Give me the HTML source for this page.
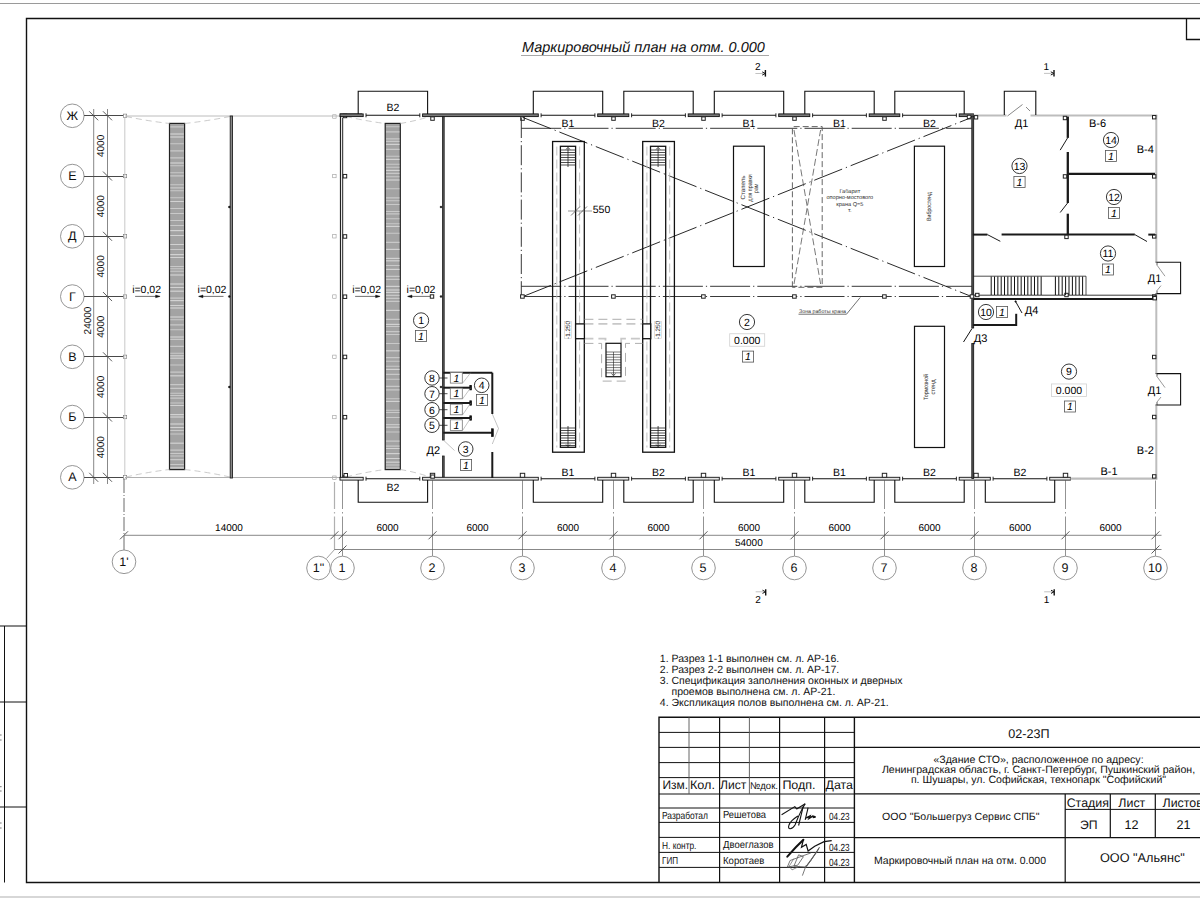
<!DOCTYPE html>
<html><head><meta charset="utf-8"><style>
html,body{margin:0;padding:0;background:#fff;width:1200px;height:900px;overflow:hidden}
svg{display:block;font-family:"Liberation Sans", sans-serif;text-rendering:geometricPrecision}
</style></head><body>
<svg width="1200" height="900" viewBox="0 0 1200 900">
<rect x="0" y="0" width="1200" height="900" fill="#fff"/>
<line x1="0.00" y1="3.50" x2="1200.00" y2="3.50" stroke="#9a9a9a" stroke-width="1.2" />
<path d="M1200,18.5 H26.5 V882.5 H1200" stroke="#111" stroke-width="1.4" fill="none" />
<line x1="0.00" y1="897.00" x2="1200.00" y2="897.00" stroke="#b0b0b0" stroke-width="1.2" />
<path d="M1186.5,18.5 V39.5 H1200" stroke="#111" stroke-width="1.3" fill="none" />
<line x1="4.50" y1="626.00" x2="4.50" y2="882.50" stroke="#111" stroke-width="1" />
<line x1="0.00" y1="626.00" x2="26.50" y2="626.00" stroke="#111" stroke-width="1" />
<line x1="0.00" y1="702.00" x2="26.50" y2="702.00" stroke="#111" stroke-width="1" />
<line x1="0.00" y1="807.00" x2="26.50" y2="807.00" stroke="#111" stroke-width="1" />
<line x1="0.00" y1="735.00" x2="1.60" y2="735.00" stroke="#555" stroke-width="0.8" />
<line x1="0.00" y1="740.00" x2="1.60" y2="740.00" stroke="#555" stroke-width="0.8" />
<line x1="0.00" y1="786.70" x2="1.60" y2="786.70" stroke="#555" stroke-width="0.8" />
<line x1="0.00" y1="791.00" x2="1.60" y2="791.00" stroke="#555" stroke-width="0.8" />
<line x1="0.00" y1="823.00" x2="1.60" y2="823.00" stroke="#555" stroke-width="0.8" />
<line x1="0.00" y1="828.00" x2="1.60" y2="828.00" stroke="#555" stroke-width="0.8" />
<text x="522" y="52.3" font-size="14.5" font-style="italic" fill="#111">Маркировочный план на отм. 0.000</text>
<line x1="521.00" y1="55.50" x2="769.00" y2="55.50" stroke="#a8a8a8" stroke-width="1" />
<text x="757.70" y="69.80" font-size="10" text-anchor="middle" fill="#000" >2</text>
<line x1="755.40" y1="73.50" x2="763.20" y2="73.50" stroke="#bbb" stroke-width="0.9" />
<line x1="765.40" y1="70.00" x2="765.40" y2="76.60" stroke="#111" stroke-width="1.4" />
<path d="M762.2,71.9 L765.2,73.5 L762.2,75.1" stroke="#111" stroke-width="1.0" fill="none" />
<text x="1046.30" y="69.70" font-size="10" text-anchor="middle" fill="#000" >1</text>
<line x1="1044.00" y1="73.40" x2="1051.80" y2="73.40" stroke="#bbb" stroke-width="0.9" />
<line x1="1054.00" y1="69.90" x2="1054.00" y2="76.50" stroke="#111" stroke-width="1.4" />
<path d="M1050.8,71.80000000000001 L1053.8,73.4 L1050.8,75.0" stroke="#111" stroke-width="1.0" fill="none" />
<text x="758.00" y="602.80" font-size="10" text-anchor="middle" fill="#000" >2</text>
<line x1="755.70" y1="591.80" x2="763.50" y2="591.80" stroke="#bbb" stroke-width="0.9" />
<line x1="765.70" y1="589.20" x2="765.70" y2="595.50" stroke="#111" stroke-width="1.4" />
<path d="M762.5,590.1999999999999 L765.5,591.8 L762.5,593.4" stroke="#111" stroke-width="1.0" fill="none" />
<text x="1046.50" y="602.80" font-size="10" text-anchor="middle" fill="#000" >1</text>
<line x1="1044.20" y1="591.80" x2="1052.00" y2="591.80" stroke="#bbb" stroke-width="0.9" />
<line x1="1054.20" y1="589.20" x2="1054.20" y2="595.50" stroke="#111" stroke-width="1.4" />
<path d="M1051.0,590.1999999999999 L1054.0,591.8 L1051.0,593.4" stroke="#111" stroke-width="1.0" fill="none" />
<circle cx="72.30" cy="115.80" r="11.80" stroke="#8a8a8a" stroke-width="0.9" fill="#fff"/>
<text x="72.30" y="119.90" font-size="12.5" text-anchor="middle" fill="#111" >Ж</text>
<line x1="84.10" y1="115.50" x2="125.00" y2="115.50" stroke="#333" stroke-width="0.9" />
<line x1="103.00" y1="111.30" x2="112.00" y2="120.30" stroke="#333" stroke-width="0.8" />
<line x1="89.20" y1="111.30" x2="98.20" y2="120.30" stroke="#333" stroke-width="0.8" />
<rect x="123.30" y="114.10" width="3.40" height="3.40" stroke="#777" stroke-width="0.6" fill="#fff" />
<circle cx="72.30" cy="176.05" r="11.80" stroke="#8a8a8a" stroke-width="0.9" fill="#fff"/>
<text x="72.30" y="180.15" font-size="12.5" text-anchor="middle" fill="#111" >Е</text>
<line x1="84.10" y1="176.50" x2="125.00" y2="176.50" stroke="#333" stroke-width="0.9" />
<line x1="103.00" y1="171.55" x2="112.00" y2="180.55" stroke="#333" stroke-width="0.8" />
<rect x="123.30" y="174.35" width="3.40" height="3.40" stroke="#777" stroke-width="0.6" fill="#fff" />
<circle cx="72.30" cy="236.30" r="11.80" stroke="#8a8a8a" stroke-width="0.9" fill="#fff"/>
<text x="72.30" y="240.40" font-size="12.5" text-anchor="middle" fill="#111" >Д</text>
<line x1="84.10" y1="236.50" x2="125.00" y2="236.50" stroke="#333" stroke-width="0.9" />
<line x1="103.00" y1="231.80" x2="112.00" y2="240.80" stroke="#333" stroke-width="0.8" />
<rect x="123.30" y="234.60" width="3.40" height="3.40" stroke="#777" stroke-width="0.6" fill="#fff" />
<circle cx="72.30" cy="296.55" r="11.80" stroke="#8a8a8a" stroke-width="0.9" fill="#fff"/>
<text x="72.30" y="300.65" font-size="12.5" text-anchor="middle" fill="#111" >Г</text>
<line x1="84.10" y1="296.50" x2="125.00" y2="296.50" stroke="#333" stroke-width="0.9" />
<line x1="103.00" y1="292.05" x2="112.00" y2="301.05" stroke="#333" stroke-width="0.8" />
<rect x="123.30" y="294.85" width="3.40" height="3.40" stroke="#777" stroke-width="0.6" fill="#fff" />
<circle cx="72.30" cy="356.80" r="11.80" stroke="#8a8a8a" stroke-width="0.9" fill="#fff"/>
<text x="72.30" y="360.90" font-size="12.5" text-anchor="middle" fill="#111" >В</text>
<line x1="84.10" y1="356.50" x2="125.00" y2="356.50" stroke="#333" stroke-width="0.9" />
<line x1="103.00" y1="352.30" x2="112.00" y2="361.30" stroke="#333" stroke-width="0.8" />
<rect x="123.30" y="355.10" width="3.40" height="3.40" stroke="#777" stroke-width="0.6" fill="#fff" />
<circle cx="72.30" cy="417.05" r="11.80" stroke="#8a8a8a" stroke-width="0.9" fill="#fff"/>
<text x="72.30" y="421.15" font-size="12.5" text-anchor="middle" fill="#111" >Б</text>
<line x1="84.10" y1="417.50" x2="125.00" y2="417.50" stroke="#333" stroke-width="0.9" />
<line x1="103.00" y1="412.55" x2="112.00" y2="421.55" stroke="#333" stroke-width="0.8" />
<rect x="123.30" y="415.35" width="3.40" height="3.40" stroke="#777" stroke-width="0.6" fill="#fff" />
<circle cx="72.30" cy="477.30" r="11.80" stroke="#8a8a8a" stroke-width="0.9" fill="#fff"/>
<text x="72.30" y="481.40" font-size="12.5" text-anchor="middle" fill="#111" >А</text>
<line x1="84.10" y1="477.50" x2="125.00" y2="477.50" stroke="#333" stroke-width="0.9" />
<line x1="103.00" y1="472.80" x2="112.00" y2="481.80" stroke="#333" stroke-width="0.8" />
<line x1="89.20" y1="472.80" x2="98.20" y2="481.80" stroke="#333" stroke-width="0.8" />
<rect x="123.30" y="475.60" width="3.40" height="3.40" stroke="#777" stroke-width="0.6" fill="#fff" />
<line x1="93.70" y1="109.00" x2="93.70" y2="484.00" stroke="#555" stroke-width="0.7" />
<line x1="107.50" y1="109.00" x2="107.50" y2="484.00" stroke="#555" stroke-width="0.7" />
<line x1="124.80" y1="117.50" x2="124.80" y2="475.50" stroke="#bbb" stroke-width="0.8" />
<text x="0" y="0" font-size="10" text-anchor="middle" fill="#111" transform="translate(104,145.9) rotate(-90)">4000</text>
<text x="0" y="0" font-size="10" text-anchor="middle" fill="#111" transform="translate(104,206.2) rotate(-90)">4000</text>
<text x="0" y="0" font-size="10" text-anchor="middle" fill="#111" transform="translate(104,266.4) rotate(-90)">4000</text>
<text x="0" y="0" font-size="10" text-anchor="middle" fill="#111" transform="translate(104,326.7) rotate(-90)">4000</text>
<text x="0" y="0" font-size="10" text-anchor="middle" fill="#111" transform="translate(104,386.9) rotate(-90)">4000</text>
<text x="0" y="0" font-size="10" text-anchor="middle" fill="#111" transform="translate(104,447.2) rotate(-90)">4000</text>
<text x="0" y="0" font-size="10" text-anchor="middle" fill="#111" transform="translate(90.5,320.5) rotate(-90)">24000</text>
<line x1="124.00" y1="479.00" x2="124.00" y2="550.00" stroke="#444" stroke-width="0.8" stroke-dasharray="14,2,1,2"/>
<circle cx="124.00" cy="561.80" r="11.80" stroke="#8a8a8a" stroke-width="0.9" fill="#fff"/>
<text x="124.00" y="566.20" font-size="12.5" text-anchor="middle" fill="#111" >1'</text>
<line x1="124.00" y1="535.30" x2="334.40" y2="535.30" stroke="#555" stroke-width="0.7" />
<line x1="120.00" y1="539.30" x2="128.00" y2="531.30" stroke="#333" stroke-width="0.8" />
<text x="229.00" y="531.00" font-size="10" text-anchor="middle" fill="#000" >14000</text>
<line x1="334.50" y1="482.00" x2="334.50" y2="549.60" stroke="#b0b0b0" stroke-width="1.2" stroke-dasharray="27,3,1.5,3,200"/>
<path d="M334.5,549.6 L326.5,558.5" stroke="#777" stroke-width="0.7" fill="none" />
<circle cx="318.50" cy="568.00" r="11.80" stroke="#8a8a8a" stroke-width="0.9" fill="#fff"/>
<text x="318.50" y="572.40" font-size="12.5" text-anchor="middle" fill="#111" >1"</text>
<line x1="330.40" y1="539.30" x2="338.40" y2="531.30" stroke="#333" stroke-width="0.8" />
<rect x="332.70" y="114.80" width="3.40" height="3.40" stroke="#999" stroke-width="0.6" fill="#fff" />
<rect x="332.70" y="476.00" width="3.40" height="3.40" stroke="#999" stroke-width="0.6" fill="#fff" />
<rect x="332.70" y="174.35" width="3.40" height="3.40" stroke="#999" stroke-width="0.6" fill="#fff" />
<rect x="332.70" y="234.60" width="3.40" height="3.40" stroke="#999" stroke-width="0.6" fill="#fff" />
<rect x="332.70" y="294.85" width="3.40" height="3.40" stroke="#999" stroke-width="0.6" fill="#fff" />
<rect x="332.70" y="355.10" width="3.40" height="3.40" stroke="#999" stroke-width="0.6" fill="#fff" />
<rect x="332.70" y="415.35" width="3.40" height="3.40" stroke="#999" stroke-width="0.6" fill="#fff" />
<line x1="342.50" y1="480.50" x2="342.50" y2="556.00" stroke="#777" stroke-width="0.8" stroke-dasharray="28.5,3,1.5,3,200"/>
<circle cx="342.50" cy="568.00" r="11.80" stroke="#8a8a8a" stroke-width="0.9" fill="#fff"/>
<text x="342.00" y="572.40" font-size="12.5" text-anchor="middle" fill="#111" >1</text>
<line x1="338.50" y1="539.30" x2="346.50" y2="531.30" stroke="#333" stroke-width="0.8" />
<line x1="338.50" y1="553.50" x2="346.50" y2="545.50" stroke="#333" stroke-width="0.8" />
<line x1="432.50" y1="480.50" x2="432.50" y2="556.00" stroke="#777" stroke-width="0.8" stroke-dasharray="28.5,3,1.5,3,200"/>
<circle cx="432.50" cy="568.00" r="11.80" stroke="#8a8a8a" stroke-width="0.9" fill="#fff"/>
<text x="432.00" y="572.40" font-size="12.5" text-anchor="middle" fill="#111" >2</text>
<line x1="428.50" y1="539.30" x2="436.50" y2="531.30" stroke="#333" stroke-width="0.8" />
<line x1="522.50" y1="480.50" x2="522.50" y2="556.00" stroke="#777" stroke-width="0.8" stroke-dasharray="28.5,3,1.5,3,200"/>
<circle cx="522.50" cy="568.00" r="11.80" stroke="#8a8a8a" stroke-width="0.9" fill="#fff"/>
<text x="522.00" y="572.40" font-size="12.5" text-anchor="middle" fill="#111" >3</text>
<line x1="518.50" y1="539.30" x2="526.50" y2="531.30" stroke="#333" stroke-width="0.8" />
<line x1="613.50" y1="480.50" x2="613.50" y2="556.00" stroke="#777" stroke-width="0.8" stroke-dasharray="28.5,3,1.5,3,200"/>
<circle cx="613.50" cy="568.00" r="11.80" stroke="#8a8a8a" stroke-width="0.9" fill="#fff"/>
<text x="613.00" y="572.40" font-size="12.5" text-anchor="middle" fill="#111" >4</text>
<line x1="609.50" y1="539.30" x2="617.50" y2="531.30" stroke="#333" stroke-width="0.8" />
<line x1="703.50" y1="480.50" x2="703.50" y2="556.00" stroke="#777" stroke-width="0.8" stroke-dasharray="28.5,3,1.5,3,200"/>
<circle cx="703.50" cy="568.00" r="11.80" stroke="#8a8a8a" stroke-width="0.9" fill="#fff"/>
<text x="703.00" y="572.40" font-size="12.5" text-anchor="middle" fill="#111" >5</text>
<line x1="699.50" y1="539.30" x2="707.50" y2="531.30" stroke="#333" stroke-width="0.8" />
<line x1="794.50" y1="480.50" x2="794.50" y2="556.00" stroke="#777" stroke-width="0.8" stroke-dasharray="28.5,3,1.5,3,200"/>
<circle cx="794.50" cy="568.00" r="11.80" stroke="#8a8a8a" stroke-width="0.9" fill="#fff"/>
<text x="794.00" y="572.40" font-size="12.5" text-anchor="middle" fill="#111" >6</text>
<line x1="790.50" y1="539.30" x2="798.50" y2="531.30" stroke="#333" stroke-width="0.8" />
<line x1="884.50" y1="480.50" x2="884.50" y2="556.00" stroke="#777" stroke-width="0.8" stroke-dasharray="28.5,3,1.5,3,200"/>
<circle cx="884.50" cy="568.00" r="11.80" stroke="#8a8a8a" stroke-width="0.9" fill="#fff"/>
<text x="884.00" y="572.40" font-size="12.5" text-anchor="middle" fill="#111" >7</text>
<line x1="880.50" y1="539.30" x2="888.50" y2="531.30" stroke="#333" stroke-width="0.8" />
<line x1="974.50" y1="480.50" x2="974.50" y2="556.00" stroke="#777" stroke-width="0.8" stroke-dasharray="28.5,3,1.5,3,200"/>
<circle cx="974.50" cy="568.00" r="11.80" stroke="#8a8a8a" stroke-width="0.9" fill="#fff"/>
<text x="974.00" y="572.40" font-size="12.5" text-anchor="middle" fill="#111" >8</text>
<line x1="970.50" y1="539.30" x2="978.50" y2="531.30" stroke="#333" stroke-width="0.8" />
<line x1="1065.50" y1="480.50" x2="1065.50" y2="556.00" stroke="#777" stroke-width="0.8" stroke-dasharray="28.5,3,1.5,3,200"/>
<circle cx="1065.50" cy="568.00" r="11.80" stroke="#8a8a8a" stroke-width="0.9" fill="#fff"/>
<text x="1065.00" y="572.40" font-size="12.5" text-anchor="middle" fill="#111" >9</text>
<line x1="1061.50" y1="539.30" x2="1069.50" y2="531.30" stroke="#333" stroke-width="0.8" />
<line x1="1155.50" y1="480.50" x2="1155.50" y2="556.00" stroke="#777" stroke-width="0.8" stroke-dasharray="28.5,3,1.5,3,200"/>
<circle cx="1155.50" cy="568.00" r="11.80" stroke="#8a8a8a" stroke-width="0.9" fill="#fff"/>
<text x="1155.00" y="572.40" font-size="12.5" text-anchor="middle" fill="#111" >10</text>
<line x1="1151.50" y1="539.30" x2="1159.50" y2="531.30" stroke="#333" stroke-width="0.8" />
<line x1="1151.50" y1="553.50" x2="1159.50" y2="545.50" stroke="#333" stroke-width="0.8" />
<line x1="334.40" y1="535.30" x2="1161.50" y2="535.30" stroke="#555" stroke-width="0.7" />
<line x1="334.40" y1="549.50" x2="1161.50" y2="549.50" stroke="#555" stroke-width="0.7" />
<text x="387.50" y="531.00" font-size="10" text-anchor="middle" fill="#000" >6000</text>
<text x="477.50" y="531.00" font-size="10" text-anchor="middle" fill="#000" >6000</text>
<text x="568.00" y="531.00" font-size="10" text-anchor="middle" fill="#000" >6000</text>
<text x="658.50" y="531.00" font-size="10" text-anchor="middle" fill="#000" >6000</text>
<text x="749.00" y="531.00" font-size="10" text-anchor="middle" fill="#000" >6000</text>
<text x="839.50" y="531.00" font-size="10" text-anchor="middle" fill="#000" >6000</text>
<text x="929.50" y="531.00" font-size="10" text-anchor="middle" fill="#000" >6000</text>
<text x="1020.00" y="531.00" font-size="10" text-anchor="middle" fill="#000" >6000</text>
<text x="1110.50" y="531.00" font-size="10" text-anchor="middle" fill="#000" >6000</text>
<text x="748.80" y="545.50" font-size="10" text-anchor="middle" fill="#000" >54000</text>
<line x1="125.00" y1="116.00" x2="340.00" y2="116.00" stroke="#bcbcbc" stroke-width="1" />
<line x1="125.00" y1="477.50" x2="340.00" y2="477.50" stroke="#b0b0b0" stroke-width="1" />
<rect x="169.50" y="123.40" width="15.10" height="346.20" stroke="#222" stroke-width="1.2" fill="#a3a3a3" />
<rect x="170.30" y="126.40" width="13.50" height="1.0" fill="#d2d2d2"/>
<rect x="170.30" y="133.40" width="13.50" height="1.2" fill="#d2d2d2"/>
<rect x="170.30" y="136.40" width="13.50" height="1.2" fill="#d2d2d2"/>
<rect x="170.30" y="143.40" width="13.50" height="0.8" fill="#d2d2d2"/>
<rect x="170.30" y="150.40" width="13.50" height="1.0" fill="#d2d2d2"/>
<rect x="170.30" y="157.40" width="13.50" height="1.0" fill="#d2d2d2"/>
<rect x="170.30" y="162.40" width="13.50" height="1.2" fill="#d2d2d2"/>
<rect x="170.30" y="165.40" width="13.50" height="0.8" fill="#d2d2d2"/>
<rect x="170.30" y="172.40" width="13.50" height="0.8" fill="#d2d2d2"/>
<rect x="170.30" y="175.40" width="13.50" height="1.0" fill="#d2d2d2"/>
<rect x="170.30" y="184.40" width="13.50" height="0.8" fill="#d2d2d2"/>
<rect x="170.30" y="187.40" width="13.50" height="1.0" fill="#d2d2d2"/>
<rect x="170.30" y="190.40" width="13.50" height="0.8" fill="#d2d2d2"/>
<rect x="170.30" y="197.40" width="13.50" height="0.8" fill="#d2d2d2"/>
<rect x="170.30" y="201.00" width="13.50" height="1.0" fill="#d2d2d2"/>
<rect x="170.30" y="208.00" width="13.50" height="0.8" fill="#d2d2d2"/>
<rect x="170.30" y="213.00" width="13.50" height="0.8" fill="#d2d2d2"/>
<rect x="170.30" y="220.00" width="13.50" height="0.8" fill="#d2d2d2"/>
<rect x="170.30" y="225.00" width="13.50" height="0.8" fill="#d2d2d2"/>
<rect x="170.30" y="230.00" width="13.50" height="1.2" fill="#d2d2d2"/>
<rect x="170.30" y="235.00" width="13.50" height="1.0" fill="#d2d2d2"/>
<rect x="170.30" y="244.00" width="13.50" height="1.0" fill="#d2d2d2"/>
<rect x="170.30" y="249.00" width="13.50" height="0.8" fill="#d2d2d2"/>
<rect x="170.30" y="254.00" width="13.50" height="1.2" fill="#d2d2d2"/>
<rect x="170.30" y="257.00" width="13.50" height="1.0" fill="#d2d2d2"/>
<rect x="170.30" y="266.00" width="13.50" height="0.8" fill="#d2d2d2"/>
<rect x="170.30" y="268.40" width="13.50" height="0.8" fill="#d2d2d2"/>
<rect x="170.30" y="270.80" width="13.50" height="0.8" fill="#d2d2d2"/>
<rect x="170.30" y="274.40" width="13.50" height="1.2" fill="#d2d2d2"/>
<rect x="170.30" y="283.40" width="13.50" height="1.2" fill="#d2d2d2"/>
<rect x="170.30" y="287.00" width="13.50" height="1.0" fill="#d2d2d2"/>
<rect x="170.30" y="290.60" width="13.50" height="1.2" fill="#d2d2d2"/>
<rect x="170.30" y="297.60" width="13.50" height="1.0" fill="#d2d2d2"/>
<rect x="170.30" y="300.00" width="13.50" height="1.2" fill="#d2d2d2"/>
<rect x="170.30" y="305.00" width="13.50" height="1.0" fill="#d2d2d2"/>
<rect x="170.30" y="307.40" width="13.50" height="1.2" fill="#d2d2d2"/>
<rect x="170.30" y="316.40" width="13.50" height="1.2" fill="#d2d2d2"/>
<rect x="170.30" y="319.40" width="13.50" height="0.8" fill="#d2d2d2"/>
<rect x="170.30" y="324.40" width="13.50" height="1.0" fill="#d2d2d2"/>
<rect x="170.30" y="329.40" width="13.50" height="0.8" fill="#d2d2d2"/>
<rect x="170.30" y="336.40" width="13.50" height="1.2" fill="#d2d2d2"/>
<rect x="170.30" y="338.80" width="13.50" height="1.0" fill="#d2d2d2"/>
<rect x="170.30" y="345.80" width="13.50" height="1.0" fill="#d2d2d2"/>
<rect x="170.30" y="352.80" width="13.50" height="0.8" fill="#d2d2d2"/>
<rect x="170.30" y="355.20" width="13.50" height="1.2" fill="#d2d2d2"/>
<rect x="170.30" y="357.60" width="13.50" height="1.2" fill="#d2d2d2"/>
<rect x="170.30" y="364.60" width="13.50" height="0.8" fill="#d2d2d2"/>
<rect x="170.30" y="371.60" width="13.50" height="1.0" fill="#d2d2d2"/>
<rect x="170.30" y="375.20" width="13.50" height="1.2" fill="#d2d2d2"/>
<rect x="170.30" y="384.20" width="13.50" height="1.0" fill="#d2d2d2"/>
<rect x="170.30" y="387.80" width="13.50" height="1.0" fill="#d2d2d2"/>
<rect x="170.30" y="392.80" width="13.50" height="0.8" fill="#d2d2d2"/>
<rect x="170.30" y="395.20" width="13.50" height="0.8" fill="#d2d2d2"/>
<rect x="170.30" y="397.60" width="13.50" height="1.0" fill="#d2d2d2"/>
<rect x="170.30" y="402.60" width="13.50" height="0.8" fill="#d2d2d2"/>
<rect x="170.30" y="405.00" width="13.50" height="1.0" fill="#d2d2d2"/>
<rect x="170.30" y="414.00" width="13.50" height="1.2" fill="#d2d2d2"/>
<rect x="170.30" y="416.40" width="13.50" height="1.2" fill="#d2d2d2"/>
<rect x="170.30" y="423.40" width="13.50" height="1.2" fill="#d2d2d2"/>
<rect x="170.30" y="427.00" width="13.50" height="1.0" fill="#d2d2d2"/>
<rect x="170.30" y="430.00" width="13.50" height="0.8" fill="#d2d2d2"/>
<rect x="170.30" y="433.60" width="13.50" height="0.8" fill="#d2d2d2"/>
<rect x="170.30" y="442.60" width="13.50" height="1.2" fill="#d2d2d2"/>
<rect x="170.30" y="449.60" width="13.50" height="1.0" fill="#d2d2d2"/>
<rect x="170.30" y="453.20" width="13.50" height="0.8" fill="#d2d2d2"/>
<rect x="170.30" y="455.60" width="13.50" height="0.8" fill="#d2d2d2"/>
<rect x="170.30" y="459.20" width="13.50" height="1.0" fill="#d2d2d2"/>
<rect x="170.30" y="464.20" width="13.50" height="0.8" fill="#d2d2d2"/>
<rect x="170.30" y="467.20" width="13.50" height="1.2" fill="#d2d2d2"/>
<rect x="385.20" y="123.40" width="15.10" height="346.20" stroke="#222" stroke-width="1.2" fill="#a3a3a3" />
<rect x="386.00" y="126.40" width="13.50" height="0.8" fill="#d2d2d2"/>
<rect x="386.00" y="131.40" width="13.50" height="1.0" fill="#d2d2d2"/>
<rect x="386.00" y="138.40" width="13.50" height="1.0" fill="#d2d2d2"/>
<rect x="386.00" y="140.80" width="13.50" height="1.0" fill="#d2d2d2"/>
<rect x="386.00" y="143.80" width="13.50" height="1.2" fill="#d2d2d2"/>
<rect x="386.00" y="148.80" width="13.50" height="1.0" fill="#d2d2d2"/>
<rect x="386.00" y="155.80" width="13.50" height="0.8" fill="#d2d2d2"/>
<rect x="386.00" y="158.80" width="13.50" height="1.2" fill="#d2d2d2"/>
<rect x="386.00" y="163.80" width="13.50" height="0.8" fill="#d2d2d2"/>
<rect x="386.00" y="166.80" width="13.50" height="0.8" fill="#d2d2d2"/>
<rect x="386.00" y="169.80" width="13.50" height="1.2" fill="#d2d2d2"/>
<rect x="386.00" y="172.80" width="13.50" height="1.0" fill="#d2d2d2"/>
<rect x="386.00" y="176.40" width="13.50" height="0.8" fill="#d2d2d2"/>
<rect x="386.00" y="179.40" width="13.50" height="1.2" fill="#d2d2d2"/>
<rect x="386.00" y="188.40" width="13.50" height="0.8" fill="#d2d2d2"/>
<rect x="386.00" y="197.40" width="13.50" height="1.0" fill="#d2d2d2"/>
<rect x="386.00" y="200.40" width="13.50" height="0.8" fill="#d2d2d2"/>
<rect x="386.00" y="204.00" width="13.50" height="0.8" fill="#d2d2d2"/>
<rect x="386.00" y="211.00" width="13.50" height="0.8" fill="#d2d2d2"/>
<rect x="386.00" y="213.40" width="13.50" height="1.0" fill="#d2d2d2"/>
<rect x="386.00" y="218.40" width="13.50" height="0.8" fill="#d2d2d2"/>
<rect x="386.00" y="223.40" width="13.50" height="0.8" fill="#d2d2d2"/>
<rect x="386.00" y="225.80" width="13.50" height="1.2" fill="#d2d2d2"/>
<rect x="386.00" y="232.80" width="13.50" height="0.8" fill="#d2d2d2"/>
<rect x="386.00" y="241.80" width="13.50" height="1.0" fill="#d2d2d2"/>
<rect x="386.00" y="248.80" width="13.50" height="1.2" fill="#d2d2d2"/>
<rect x="386.00" y="257.80" width="13.50" height="1.2" fill="#d2d2d2"/>
<rect x="386.00" y="260.20" width="13.50" height="1.2" fill="#d2d2d2"/>
<rect x="386.00" y="265.20" width="13.50" height="0.8" fill="#d2d2d2"/>
<rect x="386.00" y="268.80" width="13.50" height="1.2" fill="#d2d2d2"/>
<rect x="386.00" y="275.80" width="13.50" height="1.0" fill="#d2d2d2"/>
<rect x="386.00" y="278.80" width="13.50" height="1.0" fill="#d2d2d2"/>
<rect x="386.00" y="285.80" width="13.50" height="1.2" fill="#d2d2d2"/>
<rect x="386.00" y="289.40" width="13.50" height="1.2" fill="#d2d2d2"/>
<rect x="386.00" y="291.80" width="13.50" height="1.2" fill="#d2d2d2"/>
<rect x="386.00" y="294.80" width="13.50" height="1.0" fill="#d2d2d2"/>
<rect x="386.00" y="297.80" width="13.50" height="1.0" fill="#d2d2d2"/>
<rect x="386.00" y="300.80" width="13.50" height="1.0" fill="#d2d2d2"/>
<rect x="386.00" y="309.80" width="13.50" height="1.2" fill="#d2d2d2"/>
<rect x="386.00" y="318.80" width="13.50" height="1.0" fill="#d2d2d2"/>
<rect x="386.00" y="323.80" width="13.50" height="1.2" fill="#d2d2d2"/>
<rect x="386.00" y="326.20" width="13.50" height="0.8" fill="#d2d2d2"/>
<rect x="386.00" y="331.20" width="13.50" height="1.0" fill="#d2d2d2"/>
<rect x="386.00" y="334.20" width="13.50" height="0.8" fill="#d2d2d2"/>
<rect x="386.00" y="343.20" width="13.50" height="0.8" fill="#d2d2d2"/>
<rect x="386.00" y="350.20" width="13.50" height="1.2" fill="#d2d2d2"/>
<rect x="386.00" y="357.20" width="13.50" height="1.0" fill="#d2d2d2"/>
<rect x="386.00" y="360.80" width="13.50" height="0.8" fill="#d2d2d2"/>
<rect x="386.00" y="365.80" width="13.50" height="0.8" fill="#d2d2d2"/>
<rect x="386.00" y="368.80" width="13.50" height="1.2" fill="#d2d2d2"/>
<rect x="386.00" y="373.80" width="13.50" height="1.0" fill="#d2d2d2"/>
<rect x="386.00" y="378.80" width="13.50" height="0.8" fill="#d2d2d2"/>
<rect x="386.00" y="385.80" width="13.50" height="1.0" fill="#d2d2d2"/>
<rect x="386.00" y="389.40" width="13.50" height="1.0" fill="#d2d2d2"/>
<rect x="386.00" y="398.40" width="13.50" height="0.8" fill="#d2d2d2"/>
<rect x="386.00" y="400.80" width="13.50" height="1.2" fill="#d2d2d2"/>
<rect x="386.00" y="409.80" width="13.50" height="0.8" fill="#d2d2d2"/>
<rect x="386.00" y="412.20" width="13.50" height="0.8" fill="#d2d2d2"/>
<rect x="386.00" y="417.20" width="13.50" height="0.8" fill="#d2d2d2"/>
<rect x="386.00" y="424.20" width="13.50" height="1.0" fill="#d2d2d2"/>
<rect x="386.00" y="426.60" width="13.50" height="1.2" fill="#d2d2d2"/>
<rect x="386.00" y="431.60" width="13.50" height="0.8" fill="#d2d2d2"/>
<rect x="386.00" y="440.60" width="13.50" height="1.0" fill="#d2d2d2"/>
<rect x="386.00" y="445.60" width="13.50" height="1.0" fill="#d2d2d2"/>
<rect x="386.00" y="448.00" width="13.50" height="1.0" fill="#d2d2d2"/>
<rect x="386.00" y="453.00" width="13.50" height="1.2" fill="#d2d2d2"/>
<rect x="386.00" y="458.00" width="13.50" height="1.0" fill="#d2d2d2"/>
<rect x="386.00" y="461.60" width="13.50" height="1.2" fill="#d2d2d2"/>
<rect x="386.00" y="464.60" width="13.50" height="0.8" fill="#d2d2d2"/>
<rect x="386.00" y="467.60" width="13.50" height="0.8" fill="#d2d2d2"/>
<path d="M126,116.5 Q147.75,121 169.5,123.5 M184.6,123.5 Q207.3,121 230,116.5" stroke="#b5b5b5" stroke-width="0.7" fill="none" stroke-dasharray="6,4"/>
<path d="M126,477 Q147.75,472 169.5,469.5 M184.6,469.5 Q207.3,472 230,477" stroke="#b5b5b5" stroke-width="0.7" fill="none" stroke-dasharray="6,4"/>
<path d="M346,116.5 Q365.6,121 385.2,123.5 M400.3,123.5 Q415.15,121 430,116.5" stroke="#b5b5b5" stroke-width="0.7" fill="none" stroke-dasharray="6,4"/>
<path d="M346,477 Q365.6,472 385.2,469.5 M400.3,469.5 Q415.15,472 430,477" stroke="#b5b5b5" stroke-width="0.7" fill="none" stroke-dasharray="6,4"/>
<rect x="230.20" y="116.00" width="2.30" height="362.00" stroke="#222" stroke-width="0.9" fill="#888" />
<circle cx="229.30" cy="207.00" r="0.90" stroke="#111" stroke-width="0.5" fill="#111"/>
<circle cx="229.30" cy="296.50" r="0.90" stroke="#111" stroke-width="0.5" fill="#111"/>
<circle cx="229.30" cy="387.00" r="0.90" stroke="#111" stroke-width="0.5" fill="#111"/>
<path d="M340.5,478.5 V114 H362" stroke="#222" stroke-width="1.2" fill="none" />
<line x1="342.70" y1="118.00" x2="342.70" y2="478.00" stroke="#222" stroke-width="1" />
<rect x="343.20" y="114.20" width="3.50" height="3.50" stroke="#222" stroke-width="1" fill="#fff" />
<rect x="343.20" y="174.45" width="3.50" height="3.50" stroke="#222" stroke-width="1" fill="#fff" />
<rect x="343.20" y="234.70" width="3.50" height="3.50" stroke="#222" stroke-width="1" fill="#fff" />
<rect x="343.20" y="294.95" width="3.50" height="3.50" stroke="#222" stroke-width="1" fill="#fff" />
<rect x="343.20" y="355.20" width="3.50" height="3.50" stroke="#222" stroke-width="1" fill="#fff" />
<rect x="343.20" y="415.45" width="3.50" height="3.50" stroke="#222" stroke-width="1" fill="#fff" />
<rect x="343.20" y="475.70" width="3.50" height="3.50" stroke="#222" stroke-width="1" fill="#fff" />
<rect x="442.40" y="116.50" width="1.80" height="323.50" stroke="#222" stroke-width="0.8" fill="#555" />
<rect x="442.40" y="456.00" width="1.80" height="22.00" stroke="#222" stroke-width="0.8" fill="#555" />
<circle cx="441.00" cy="207.00" r="0.90" stroke="#111" stroke-width="0.5" fill="#111"/>
<circle cx="441.00" cy="296.50" r="0.90" stroke="#111" stroke-width="0.5" fill="#111"/>
<circle cx="441.00" cy="387.00" r="0.90" stroke="#111" stroke-width="0.5" fill="#111"/>
<rect x="340.00" y="113.90" width="23.20" height="2.70" stroke="#111" stroke-width="0.9" fill="#7a7a7a" />
<rect x="422.60" y="113.90" width="115.70" height="2.70" stroke="#111" stroke-width="0.9" fill="#7a7a7a" />
<rect x="597.70" y="113.90" width="31.10" height="2.70" stroke="#111" stroke-width="0.9" fill="#7a7a7a" />
<rect x="688.20" y="113.90" width="31.10" height="2.70" stroke="#111" stroke-width="0.9" fill="#7a7a7a" />
<rect x="778.70" y="113.90" width="31.10" height="2.70" stroke="#111" stroke-width="0.9" fill="#7a7a7a" />
<rect x="869.20" y="113.90" width="30.60" height="2.70" stroke="#111" stroke-width="0.9" fill="#7a7a7a" />
<rect x="959.20" y="113.90" width="14.30" height="2.70" stroke="#111" stroke-width="0.9" fill="#7a7a7a" />
<path d="M358.20,114 V91.3 H427.60 V114" stroke="#111" stroke-width="1.1" fill="none" />
<line x1="366.00" y1="115.30" x2="419.80" y2="115.30" stroke="#111" stroke-width="1.1" />
<line x1="366.00" y1="113.30" x2="366.00" y2="117.30" stroke="#111" stroke-width="0.9" />
<line x1="419.80" y1="113.30" x2="419.80" y2="117.30" stroke="#111" stroke-width="0.9" />
<text x="392.90" y="111.00" font-size="10.5" text-anchor="middle" fill="#000" >В2</text>
<path d="M533.30,114 V91.3 H602.70 V114" stroke="#111" stroke-width="1.1" fill="none" />
<line x1="541.10" y1="115.30" x2="594.90" y2="115.30" stroke="#111" stroke-width="1.1" />
<line x1="541.10" y1="113.30" x2="541.10" y2="117.30" stroke="#111" stroke-width="0.9" />
<line x1="594.90" y1="113.30" x2="594.90" y2="117.30" stroke="#111" stroke-width="0.9" />
<text x="568.00" y="126.80" font-size="10.5" text-anchor="middle" fill="#000" >В1</text>
<path d="M623.80,114 V91.3 H693.20 V114" stroke="#111" stroke-width="1.1" fill="none" />
<line x1="631.60" y1="115.30" x2="685.40" y2="115.30" stroke="#111" stroke-width="1.1" />
<line x1="631.60" y1="113.30" x2="631.60" y2="117.30" stroke="#111" stroke-width="0.9" />
<line x1="685.40" y1="113.30" x2="685.40" y2="117.30" stroke="#111" stroke-width="0.9" />
<text x="658.50" y="126.80" font-size="10.5" text-anchor="middle" fill="#000" >В2</text>
<path d="M714.30,114 V91.3 H783.70 V114" stroke="#111" stroke-width="1.1" fill="none" />
<line x1="722.10" y1="115.30" x2="775.90" y2="115.30" stroke="#111" stroke-width="1.1" />
<line x1="722.10" y1="113.30" x2="722.10" y2="117.30" stroke="#111" stroke-width="0.9" />
<line x1="775.90" y1="113.30" x2="775.90" y2="117.30" stroke="#111" stroke-width="0.9" />
<text x="749.00" y="126.80" font-size="10.5" text-anchor="middle" fill="#000" >В1</text>
<path d="M804.80,114 V91.3 H874.20 V114" stroke="#111" stroke-width="1.1" fill="none" />
<line x1="812.60" y1="115.30" x2="866.40" y2="115.30" stroke="#111" stroke-width="1.1" />
<line x1="812.60" y1="113.30" x2="812.60" y2="117.30" stroke="#111" stroke-width="0.9" />
<line x1="866.40" y1="113.30" x2="866.40" y2="117.30" stroke="#111" stroke-width="0.9" />
<text x="839.50" y="126.80" font-size="10.5" text-anchor="middle" fill="#000" >В1</text>
<path d="M894.80,114 V91.3 H964.20 V114" stroke="#111" stroke-width="1.1" fill="none" />
<line x1="902.60" y1="115.30" x2="956.40" y2="115.30" stroke="#111" stroke-width="1.1" />
<line x1="902.60" y1="113.30" x2="902.60" y2="117.30" stroke="#111" stroke-width="0.9" />
<line x1="956.40" y1="113.30" x2="956.40" y2="117.30" stroke="#111" stroke-width="0.9" />
<text x="929.50" y="126.80" font-size="10.5" text-anchor="middle" fill="#000" >В2</text>
<rect x="430.75" y="116.90" width="3.50" height="3.40" stroke="#222" stroke-width="1" fill="#fff" />
<rect x="520.75" y="116.90" width="3.50" height="3.40" stroke="#222" stroke-width="1" fill="#fff" />
<rect x="611.75" y="116.90" width="3.50" height="3.40" stroke="#222" stroke-width="1" fill="#fff" />
<rect x="701.75" y="116.90" width="3.50" height="3.40" stroke="#222" stroke-width="1" fill="#fff" />
<rect x="792.75" y="116.90" width="3.50" height="3.40" stroke="#222" stroke-width="1" fill="#fff" />
<rect x="882.75" y="116.90" width="3.50" height="3.40" stroke="#222" stroke-width="1" fill="#fff" />
<rect x="340.00" y="477.30" width="23.20" height="2.80" stroke="#111" stroke-width="0.9" fill="#e6e6e6" />
<rect x="422.60" y="477.30" width="115.70" height="2.80" stroke="#111" stroke-width="0.9" fill="#e6e6e6" />
<rect x="597.70" y="477.30" width="31.10" height="2.80" stroke="#111" stroke-width="0.9" fill="#e6e6e6" />
<rect x="688.20" y="477.30" width="31.10" height="2.80" stroke="#111" stroke-width="0.9" fill="#e6e6e6" />
<rect x="778.70" y="477.30" width="31.10" height="2.80" stroke="#111" stroke-width="0.9" fill="#e6e6e6" />
<rect x="869.20" y="477.30" width="30.60" height="2.80" stroke="#111" stroke-width="0.9" fill="#e6e6e6" />
<rect x="959.20" y="477.30" width="31.10" height="2.80" stroke="#111" stroke-width="0.9" fill="#e6e6e6" />
<rect x="1049.70" y="477.30" width="20.70" height="2.80" stroke="#111" stroke-width="0.9" fill="#e6e6e6" />
<path d="M358.20,480 V502.3 H427.60 V480" stroke="#111" stroke-width="1.1" fill="none" />
<line x1="366.00" y1="478.70" x2="419.80" y2="478.70" stroke="#111" stroke-width="1.1" />
<line x1="366.00" y1="476.70" x2="366.00" y2="480.70" stroke="#111" stroke-width="0.9" />
<line x1="419.80" y1="476.70" x2="419.80" y2="480.70" stroke="#111" stroke-width="0.9" />
<text x="392.90" y="491.00" font-size="10.5" text-anchor="middle" fill="#000" >В2</text>
<path d="M533.30,480 V502.3 H602.70 V480" stroke="#111" stroke-width="1.1" fill="none" />
<line x1="541.10" y1="478.70" x2="594.90" y2="478.70" stroke="#111" stroke-width="1.1" />
<line x1="541.10" y1="476.70" x2="541.10" y2="480.70" stroke="#111" stroke-width="0.9" />
<line x1="594.90" y1="476.70" x2="594.90" y2="480.70" stroke="#111" stroke-width="0.9" />
<text x="568.00" y="475.80" font-size="10.5" text-anchor="middle" fill="#000" >В1</text>
<path d="M623.80,480 V502.3 H693.20 V480" stroke="#111" stroke-width="1.1" fill="none" />
<line x1="631.60" y1="478.70" x2="685.40" y2="478.70" stroke="#111" stroke-width="1.1" />
<line x1="631.60" y1="476.70" x2="631.60" y2="480.70" stroke="#111" stroke-width="0.9" />
<line x1="685.40" y1="476.70" x2="685.40" y2="480.70" stroke="#111" stroke-width="0.9" />
<text x="658.50" y="475.80" font-size="10.5" text-anchor="middle" fill="#000" >В2</text>
<path d="M714.30,480 V502.3 H783.70 V480" stroke="#111" stroke-width="1.1" fill="none" />
<line x1="722.10" y1="478.70" x2="775.90" y2="478.70" stroke="#111" stroke-width="1.1" />
<line x1="722.10" y1="476.70" x2="722.10" y2="480.70" stroke="#111" stroke-width="0.9" />
<line x1="775.90" y1="476.70" x2="775.90" y2="480.70" stroke="#111" stroke-width="0.9" />
<text x="749.00" y="475.80" font-size="10.5" text-anchor="middle" fill="#000" >В1</text>
<path d="M804.80,480 V502.3 H874.20 V480" stroke="#111" stroke-width="1.1" fill="none" />
<line x1="812.60" y1="478.70" x2="866.40" y2="478.70" stroke="#111" stroke-width="1.1" />
<line x1="812.60" y1="476.70" x2="812.60" y2="480.70" stroke="#111" stroke-width="0.9" />
<line x1="866.40" y1="476.70" x2="866.40" y2="480.70" stroke="#111" stroke-width="0.9" />
<text x="839.50" y="475.80" font-size="10.5" text-anchor="middle" fill="#000" >В1</text>
<path d="M894.80,480 V502.3 H964.20 V480" stroke="#111" stroke-width="1.1" fill="none" />
<line x1="902.60" y1="478.70" x2="956.40" y2="478.70" stroke="#111" stroke-width="1.1" />
<line x1="902.60" y1="476.70" x2="902.60" y2="480.70" stroke="#111" stroke-width="0.9" />
<line x1="956.40" y1="476.70" x2="956.40" y2="480.70" stroke="#111" stroke-width="0.9" />
<text x="929.50" y="475.80" font-size="10.5" text-anchor="middle" fill="#000" >В2</text>
<path d="M985.30,480 V502.3 H1054.70 V480" stroke="#111" stroke-width="1.1" fill="none" />
<line x1="993.10" y1="478.70" x2="1046.90" y2="478.70" stroke="#111" stroke-width="1.1" />
<line x1="993.10" y1="476.70" x2="993.10" y2="480.70" stroke="#111" stroke-width="0.9" />
<line x1="1046.90" y1="476.70" x2="1046.90" y2="480.70" stroke="#111" stroke-width="0.9" />
<text x="1020.00" y="475.80" font-size="10.5" text-anchor="middle" fill="#000" >В2</text>
<rect x="430.30" y="473.30" width="4.40" height="4.00" stroke="#222" stroke-width="1" fill="#fff" />
<rect x="520.30" y="473.30" width="4.40" height="4.00" stroke="#222" stroke-width="1" fill="#fff" />
<rect x="611.30" y="473.30" width="4.40" height="4.00" stroke="#222" stroke-width="1" fill="#fff" />
<rect x="701.30" y="473.30" width="4.40" height="4.00" stroke="#222" stroke-width="1" fill="#fff" />
<rect x="792.30" y="473.30" width="4.40" height="4.00" stroke="#222" stroke-width="1" fill="#fff" />
<rect x="882.30" y="473.30" width="4.40" height="4.00" stroke="#222" stroke-width="1" fill="#fff" />
<rect x="1063.30" y="473.30" width="4.40" height="4.00" stroke="#222" stroke-width="1" fill="#fff" />
<rect x="973.80" y="473.30" width="4.40" height="4.00" stroke="#222" stroke-width="1" fill="#fff" />
<rect x="344.00" y="473.50" width="3.50" height="3.50" stroke="#222" stroke-width="1" fill="#fff" />
<line x1="973.50" y1="115.60" x2="1006.50" y2="115.60" stroke="#bdbdbd" stroke-width="2" />
<line x1="1030.50" y1="115.60" x2="1157.30" y2="115.60" stroke="#bdbdbd" stroke-width="2" />
<path d="M1004.3,115 V91.3 H1035.8 V115" stroke="#111" stroke-width="1.1" fill="none" />
<path d="M1007.5,116 L1022.5,104.5 M1026,107 L1030,111" stroke="#555" stroke-width="0.7" fill="none" />
<line x1="1156.30" y1="115.00" x2="1156.30" y2="262.50" stroke="#bdbdbd" stroke-width="2" />
<line x1="1156.30" y1="293.50" x2="1156.30" y2="374.00" stroke="#bdbdbd" stroke-width="2" />
<line x1="1156.30" y1="404.50" x2="1156.30" y2="479.50" stroke="#bdbdbd" stroke-width="2" />
<line x1="1070.40" y1="478.70" x2="1157.30" y2="478.70" stroke="#bdbdbd" stroke-width="2.2" />
<path d="M1157,262.2 H1180.6 V293.6 H1157" stroke="#111" stroke-width="1.1" fill="none" />
<path d="M1157,265.2 L1165,276.2 M1157,290.6 L1161,285.6" stroke="#555" stroke-width="0.6" fill="none" />
<path d="M1155.5,262.2 H1157 V265.2 M1155.5,293.6 H1157 V290.6" stroke="#333" stroke-width="0.8" fill="none" />
<text x="1154.50" y="282.40" font-size="11" text-anchor="middle" fill="#000" >Д1</text>
<path d="M1157,373.6 H1180.6 V405 H1157" stroke="#111" stroke-width="1.1" fill="none" />
<path d="M1157,376.6 L1165,387.6 M1157,402 L1161,397" stroke="#555" stroke-width="0.6" fill="none" />
<path d="M1155.5,373.6 H1157 V376.6 M1155.5,405 H1157 V402" stroke="#333" stroke-width="0.8" fill="none" />
<text x="1154.50" y="393.80" font-size="11" text-anchor="middle" fill="#000" >Д1</text>
<rect x="1152.50" y="115.50" width="3.40" height="3.40" stroke="#222" stroke-width="1" fill="#fff" />
<rect x="1152.50" y="174.70" width="3.40" height="3.40" stroke="#222" stroke-width="1" fill="#fff" />
<rect x="1152.50" y="234.70" width="3.40" height="3.40" stroke="#222" stroke-width="1" fill="#fff" />
<rect x="1152.50" y="294.80" width="3.40" height="3.40" stroke="#222" stroke-width="1" fill="#fff" />
<rect x="1152.50" y="355.30" width="3.40" height="3.40" stroke="#222" stroke-width="1" fill="#fff" />
<rect x="1152.50" y="415.30" width="3.40" height="3.40" stroke="#222" stroke-width="1" fill="#fff" />
<rect x="1152.50" y="474.70" width="3.40" height="3.40" stroke="#222" stroke-width="1" fill="#fff" />
<rect x="971.80" y="116.00" width="1.90" height="212.00" stroke="#111" stroke-width="0.8" fill="#555" />
<rect x="971.80" y="343.50" width="1.90" height="135.00" stroke="#111" stroke-width="0.8" fill="#555" />
<rect x="967.30" y="115.30" width="3.60" height="3.60" stroke="#222" stroke-width="0.9" fill="#fff" />
<rect x="974.30" y="115.60" width="3.40" height="3.40" stroke="#222" stroke-width="1" fill="#fff" />
<line x1="972.00" y1="328.50" x2="963.50" y2="342.00" stroke="#111" stroke-width="1" />
<text x="980.50" y="341.50" font-size="11" text-anchor="middle" fill="#000" >Д3</text>
<line x1="1067.80" y1="116.60" x2="1067.80" y2="137.90" stroke="#1a1a1a" stroke-width="2.3" />
<line x1="1067.80" y1="152.00" x2="1067.80" y2="203.00" stroke="#1a1a1a" stroke-width="2.3" />
<line x1="1067.80" y1="213.70" x2="1067.80" y2="234.60" stroke="#1a1a1a" stroke-width="2.3" />
<line x1="1067.60" y1="137.90" x2="1060.20" y2="150.10" stroke="#1a1a1a" stroke-width="1" />
<line x1="1067.60" y1="203.00" x2="1060.20" y2="212.50" stroke="#1a1a1a" stroke-width="1" />
<rect x="1063.30" y="116.30" width="3.40" height="3.40" stroke="#222" stroke-width="1" fill="#fff" />
<rect x="1063.30" y="174.70" width="3.40" height="3.40" stroke="#222" stroke-width="1" fill="#fff" />
<line x1="1067.60" y1="173.90" x2="1155.00" y2="173.90" stroke="#1a1a1a" stroke-width="2.3" />
<line x1="972.80" y1="234.60" x2="987.40" y2="234.60" stroke="#1a1a1a" stroke-width="2" />
<line x1="987.40" y1="234.60" x2="1000.30" y2="241.30" stroke="#1a1a1a" stroke-width="1" />
<line x1="1001.60" y1="234.60" x2="1134.80" y2="234.60" stroke="#1a1a1a" stroke-width="2" />
<line x1="1134.80" y1="234.60" x2="1147.00" y2="241.50" stroke="#1a1a1a" stroke-width="1" />
<line x1="1148.30" y1="234.60" x2="1155.00" y2="234.60" stroke="#1a1a1a" stroke-width="2" />
<rect x="1064.80" y="235.20" width="3.40" height="3.40" stroke="#222" stroke-width="1" fill="#fff" />
<line x1="973.00" y1="295.20" x2="1157.00" y2="295.20" stroke="#222" stroke-width="0.9" />
<line x1="973.00" y1="299.10" x2="1157.00" y2="299.10" stroke="#1a1a1a" stroke-width="2" />
<rect x="975.60" y="293.30" width="3.40" height="3.40" stroke="#222" stroke-width="1" fill="#fff" />
<rect x="1064.80" y="293.30" width="3.40" height="3.40" stroke="#222" stroke-width="1" fill="#fff" />
<rect x="1153.00" y="296.50" width="3.40" height="3.40" stroke="#222" stroke-width="1" fill="#fff" />
<line x1="973.00" y1="276.20" x2="1086.00" y2="276.20" stroke="#222" stroke-width="0.8" />
<line x1="1086.00" y1="276.20" x2="1086.00" y2="295.00" stroke="#222" stroke-width="0.8" />
<line x1="991.20" y1="276.50" x2="991.20" y2="295.00" stroke="#111" stroke-width="1.0" />
<line x1="994.53" y1="276.50" x2="994.53" y2="295.00" stroke="#111" stroke-width="1.0" />
<line x1="997.86" y1="276.50" x2="997.86" y2="295.00" stroke="#111" stroke-width="1.0" />
<line x1="1001.19" y1="276.50" x2="1001.19" y2="295.00" stroke="#111" stroke-width="1.0" />
<line x1="1004.52" y1="276.50" x2="1004.52" y2="295.00" stroke="#111" stroke-width="1.0" />
<line x1="1007.85" y1="276.50" x2="1007.85" y2="295.00" stroke="#111" stroke-width="1.0" />
<line x1="1011.18" y1="276.50" x2="1011.18" y2="295.00" stroke="#111" stroke-width="1.0" />
<line x1="1014.51" y1="276.50" x2="1014.51" y2="295.00" stroke="#111" stroke-width="1.0" />
<line x1="1017.84" y1="276.50" x2="1017.84" y2="295.00" stroke="#111" stroke-width="1.0" />
<line x1="1021.17" y1="276.50" x2="1021.17" y2="295.00" stroke="#111" stroke-width="1.0" />
<line x1="1024.50" y1="276.50" x2="1024.50" y2="295.00" stroke="#111" stroke-width="1.0" />
<line x1="1027.83" y1="276.50" x2="1027.83" y2="295.00" stroke="#111" stroke-width="1.0" />
<line x1="1031.16" y1="276.50" x2="1031.16" y2="295.00" stroke="#111" stroke-width="1.0" />
<line x1="1034.49" y1="276.50" x2="1034.49" y2="295.00" stroke="#111" stroke-width="1.0" />
<line x1="1037.82" y1="276.50" x2="1037.82" y2="295.00" stroke="#111" stroke-width="1.0" />
<line x1="1041.15" y1="276.50" x2="1041.15" y2="295.00" stroke="#111" stroke-width="1.0" />
<line x1="1055.40" y1="276.50" x2="1055.40" y2="295.00" stroke="#111" stroke-width="1.0" />
<line x1="1058.80" y1="276.50" x2="1058.80" y2="295.00" stroke="#111" stroke-width="1.0" />
<line x1="1062.20" y1="276.50" x2="1062.20" y2="295.00" stroke="#111" stroke-width="1.0" />
<line x1="1065.60" y1="276.50" x2="1065.60" y2="295.00" stroke="#111" stroke-width="1.0" />
<line x1="1069.00" y1="276.50" x2="1069.00" y2="295.00" stroke="#111" stroke-width="1.0" />
<line x1="1072.40" y1="276.50" x2="1072.40" y2="295.00" stroke="#111" stroke-width="1.0" />
<line x1="1075.80" y1="276.50" x2="1075.80" y2="295.00" stroke="#111" stroke-width="1.0" />
<line x1="1079.20" y1="276.50" x2="1079.20" y2="295.00" stroke="#111" stroke-width="1.0" />
<line x1="1082.60" y1="276.50" x2="1082.60" y2="295.00" stroke="#111" stroke-width="1.0" />
<line x1="972.80" y1="325.00" x2="1016.20" y2="325.00" stroke="#1a1a1a" stroke-width="2" />
<line x1="1016.20" y1="313.80" x2="1016.20" y2="326.00" stroke="#1a1a1a" stroke-width="2" />
<line x1="1015.60" y1="301.50" x2="1022.00" y2="313.00" stroke="#1a1a1a" stroke-width="1" />
<circle cx="1015.60" cy="301.50" r="0.80" stroke="#111" stroke-width="0.5" fill="#111"/>
<text x="1031.50" y="314.20" font-size="11" text-anchor="middle" fill="#000" >Д4</text>
<circle cx="1019.50" cy="166.00" r="7.60" stroke="#222" stroke-width="0.9" fill="#fff"/>
<text x="1019.50" y="169.80" font-size="10.5" text-anchor="middle" fill="#000" >13</text>
<rect x="1013.90" y="176.50" width="11.20" height="11.00" stroke="#555" stroke-width="0.8" fill="#fff" />
<text x="1019.50" y="185.70" font-size="10.5" text-anchor="middle" fill="#000" font-style="italic">1</text>
<circle cx="1111.00" cy="140.00" r="7.60" stroke="#222" stroke-width="0.9" fill="#fff"/>
<text x="1111.00" y="143.80" font-size="10.5" text-anchor="middle" fill="#000" >14</text>
<rect x="1105.40" y="150.50" width="11.20" height="11.00" stroke="#555" stroke-width="0.8" fill="#fff" />
<text x="1111.00" y="159.70" font-size="10.5" text-anchor="middle" fill="#000" font-style="italic">1</text>
<circle cx="1114.00" cy="197.00" r="7.60" stroke="#222" stroke-width="0.9" fill="#fff"/>
<text x="1114.00" y="200.80" font-size="10.5" text-anchor="middle" fill="#000" >12</text>
<rect x="1108.40" y="207.50" width="11.20" height="11.00" stroke="#555" stroke-width="0.8" fill="#fff" />
<text x="1114.00" y="216.70" font-size="10.5" text-anchor="middle" fill="#000" font-style="italic">1</text>
<circle cx="1108.00" cy="253.50" r="7.60" stroke="#222" stroke-width="0.9" fill="#fff"/>
<text x="1108.00" y="257.30" font-size="10.5" text-anchor="middle" fill="#000" >11</text>
<rect x="1102.40" y="264.00" width="11.20" height="11.00" stroke="#555" stroke-width="0.8" fill="#fff" />
<text x="1108.00" y="273.20" font-size="10.5" text-anchor="middle" fill="#000" font-style="italic">1</text>
<circle cx="986.00" cy="312.00" r="7.60" stroke="#222" stroke-width="0.9" fill="#fff"/>
<text x="986.00" y="315.80" font-size="10.5" text-anchor="middle" fill="#000" >10</text>
<rect x="996.40" y="306.50" width="11.20" height="11.00" stroke="#555" stroke-width="0.8" fill="#fff" />
<text x="1002.00" y="315.70" font-size="10.5" text-anchor="middle" fill="#000" font-style="italic">1</text>
<circle cx="1069.00" cy="371.60" r="7.60" stroke="#222" stroke-width="0.9" fill="#fff"/>
<text x="1069.00" y="375.40" font-size="10.5" text-anchor="middle" fill="#000" >9</text>
<rect x="1051.50" y="383.95" width="35.00" height="12.50" stroke="#d0d0d0" stroke-width="0.8" fill="#fff" />
<text x="1069.00" y="394.20" font-size="10.5" text-anchor="middle" fill="#000" >0.000</text>
<rect x="1064.40" y="401.00" width="11.20" height="11.00" stroke="#555" stroke-width="0.8" fill="#fff" />
<text x="1070.00" y="410.20" font-size="10.5" text-anchor="middle" fill="#000" font-style="italic">1</text>
<text x="1021.50" y="126.50" font-size="11" text-anchor="middle" fill="#000" >Д1</text>
<text x="1097.50" y="126.50" font-size="11" text-anchor="middle" fill="#000" >В-6</text>
<text x="1145.30" y="152.80" font-size="11" text-anchor="middle" fill="#000" >В-4</text>
<text x="1145.40" y="454.00" font-size="11" text-anchor="middle" fill="#000" >В-2</text>
<text x="1109.00" y="475.00" font-size="11" text-anchor="middle" fill="#000" >В-1</text>
<line x1="521.30" y1="128.30" x2="972.00" y2="128.30" stroke="#222" stroke-width="0.9" stroke-dasharray="40,3,1.2,3"/>
<line x1="521.30" y1="286.30" x2="972.00" y2="286.30" stroke="#222" stroke-width="0.9" stroke-dasharray="40,3,1.2,3"/>
<line x1="521.30" y1="296.50" x2="972.00" y2="296.50" stroke="#222" stroke-width="0.9" stroke-dasharray="40,3,1.2,3"/>
<line x1="521.30" y1="118.00" x2="521.30" y2="296.50" stroke="#222" stroke-width="0.9" stroke-dasharray="20,3,1.2,3"/>
<line x1="523.00" y1="117.50" x2="971.50" y2="296.50" stroke="#111" stroke-width="0.9" stroke-dasharray="30,4,1.2,4"/>
<line x1="523.00" y1="296.50" x2="971.50" y2="117.50" stroke="#111" stroke-width="0.9" stroke-dasharray="30,4,1.2,4"/>
<rect x="520.60" y="294.80" width="3.60" height="3.40" stroke="#222" stroke-width="1" fill="#fff" />
<rect x="611.60" y="294.80" width="3.60" height="3.40" stroke="#222" stroke-width="1" fill="#fff" />
<rect x="701.60" y="294.80" width="3.60" height="3.40" stroke="#222" stroke-width="1" fill="#fff" />
<rect x="792.60" y="294.80" width="3.60" height="3.40" stroke="#222" stroke-width="1" fill="#fff" />
<rect x="882.60" y="294.80" width="3.60" height="3.40" stroke="#222" stroke-width="1" fill="#fff" />
<rect x="970.20" y="294.80" width="3.60" height="3.40" stroke="#222" stroke-width="1" fill="#fff" />
<rect x="552.60" y="141.50" width="31.70" height="310.70" stroke="#111" stroke-width="1.3" fill="none" />
<rect x="560.40" y="146.30" width="15.20" height="301.00" stroke="#111" stroke-width="1.3" fill="none" />
<line x1="556.80" y1="146.50" x2="556.80" y2="447.50" stroke="#bbb" stroke-width="0.9" stroke-dasharray="9,4"/>
<line x1="579.60" y1="146.50" x2="579.60" y2="447.50" stroke="#bbb" stroke-width="0.9" stroke-dasharray="9,4"/>
<line x1="560.40" y1="150.00" x2="575.60" y2="150.00" stroke="#222" stroke-width="0.8" />
<line x1="560.40" y1="152.50" x2="575.60" y2="152.50" stroke="#222" stroke-width="0.8" />
<line x1="560.40" y1="155.00" x2="575.60" y2="155.00" stroke="#222" stroke-width="0.8" />
<line x1="560.40" y1="157.50" x2="575.60" y2="157.50" stroke="#222" stroke-width="0.8" />
<line x1="560.40" y1="160.00" x2="575.60" y2="160.00" stroke="#222" stroke-width="0.8" />
<line x1="560.40" y1="162.50" x2="575.60" y2="162.50" stroke="#222" stroke-width="0.8" />
<line x1="560.40" y1="165.00" x2="575.60" y2="165.00" stroke="#222" stroke-width="0.8" />
<line x1="568.00" y1="148.00" x2="568.00" y2="167.00" stroke="#222" stroke-width="0.8" />
<line x1="560.40" y1="428.00" x2="575.60" y2="428.00" stroke="#222" stroke-width="0.8" />
<line x1="560.40" y1="430.50" x2="575.60" y2="430.50" stroke="#222" stroke-width="0.8" />
<line x1="560.40" y1="433.00" x2="575.60" y2="433.00" stroke="#222" stroke-width="0.8" />
<line x1="560.40" y1="435.50" x2="575.60" y2="435.50" stroke="#222" stroke-width="0.8" />
<line x1="560.40" y1="438.00" x2="575.60" y2="438.00" stroke="#222" stroke-width="0.8" />
<line x1="560.40" y1="440.50" x2="575.60" y2="440.50" stroke="#222" stroke-width="0.8" />
<line x1="560.40" y1="443.00" x2="575.60" y2="443.00" stroke="#222" stroke-width="0.8" />
<line x1="560.40" y1="445.50" x2="575.60" y2="445.50" stroke="#222" stroke-width="0.8" />
<line x1="568.00" y1="426.00" x2="568.00" y2="446.00" stroke="#222" stroke-width="0.8" />
<path d="M566.0,444.5 L568.0,446.8 L570.0,444.5" stroke="#111" stroke-width="0.7" fill="none" />
<path d="M566.0,149.5 L568.0,147.2 L570.0,149.5" stroke="#111" stroke-width="0.7" fill="none" />
<rect x="564.60" y="321.40" width="6.80" height="17.10" stroke="#ccc" stroke-width="0.6" fill="#fff" />
<text x="0" y="0" font-size="6.3" text-anchor="middle" fill="#222" transform="translate(570.2,330) rotate(-90)">-1.250</text>
<rect x="642.70" y="141.50" width="31.70" height="310.70" stroke="#111" stroke-width="1.3" fill="none" />
<rect x="650.50" y="146.30" width="15.20" height="301.00" stroke="#111" stroke-width="1.3" fill="none" />
<line x1="646.90" y1="146.50" x2="646.90" y2="447.50" stroke="#bbb" stroke-width="0.9" stroke-dasharray="9,4"/>
<line x1="669.70" y1="146.50" x2="669.70" y2="447.50" stroke="#bbb" stroke-width="0.9" stroke-dasharray="9,4"/>
<line x1="650.50" y1="150.00" x2="665.70" y2="150.00" stroke="#222" stroke-width="0.8" />
<line x1="650.50" y1="152.50" x2="665.70" y2="152.50" stroke="#222" stroke-width="0.8" />
<line x1="650.50" y1="155.00" x2="665.70" y2="155.00" stroke="#222" stroke-width="0.8" />
<line x1="650.50" y1="157.50" x2="665.70" y2="157.50" stroke="#222" stroke-width="0.8" />
<line x1="650.50" y1="160.00" x2="665.70" y2="160.00" stroke="#222" stroke-width="0.8" />
<line x1="650.50" y1="162.50" x2="665.70" y2="162.50" stroke="#222" stroke-width="0.8" />
<line x1="650.50" y1="165.00" x2="665.70" y2="165.00" stroke="#222" stroke-width="0.8" />
<line x1="658.10" y1="148.00" x2="658.10" y2="167.00" stroke="#222" stroke-width="0.8" />
<line x1="650.50" y1="428.00" x2="665.70" y2="428.00" stroke="#222" stroke-width="0.8" />
<line x1="650.50" y1="430.50" x2="665.70" y2="430.50" stroke="#222" stroke-width="0.8" />
<line x1="650.50" y1="433.00" x2="665.70" y2="433.00" stroke="#222" stroke-width="0.8" />
<line x1="650.50" y1="435.50" x2="665.70" y2="435.50" stroke="#222" stroke-width="0.8" />
<line x1="650.50" y1="438.00" x2="665.70" y2="438.00" stroke="#222" stroke-width="0.8" />
<line x1="650.50" y1="440.50" x2="665.70" y2="440.50" stroke="#222" stroke-width="0.8" />
<line x1="650.50" y1="443.00" x2="665.70" y2="443.00" stroke="#222" stroke-width="0.8" />
<line x1="650.50" y1="445.50" x2="665.70" y2="445.50" stroke="#222" stroke-width="0.8" />
<line x1="658.10" y1="426.00" x2="658.10" y2="446.00" stroke="#222" stroke-width="0.8" />
<path d="M656.1,444.5 L658.1,446.8 L660.1,444.5" stroke="#111" stroke-width="0.7" fill="none" />
<path d="M656.1,149.5 L658.1,147.2 L660.1,149.5" stroke="#111" stroke-width="0.7" fill="none" />
<rect x="654.70" y="321.40" width="6.80" height="17.10" stroke="#ccc" stroke-width="0.6" fill="#fff" />
<text x="0" y="0" font-size="6.3" text-anchor="middle" fill="#222" transform="translate(660.3,330) rotate(-90)">-1.250</text>
<line x1="584.40" y1="319.30" x2="642.70" y2="319.30" stroke="#999" stroke-width="0.8" stroke-dasharray="9,5"/>
<line x1="584.40" y1="323.90" x2="642.70" y2="323.90" stroke="#c8c8c8" stroke-width="1.8" stroke-dasharray="9,5"/>
<path d="M584.4,338.7 H605.5 V343 M621.2,343 V338.7 H642.7" stroke="#c8c8c8" stroke-width="1.8" fill="none" stroke-dasharray="9,5"/>
<path d="M584.4,343.4 H601.6 V381.1 H625.5 V343.4 H642.7" stroke="#999" stroke-width="0.8" fill="none" stroke-dasharray="9,5"/>
<rect x="575.60" y="323.90" width="8.80" height="14.80" stroke="#111" stroke-width="1.3" fill="#fff" />
<rect x="642.70" y="323.90" width="8.00" height="14.80" stroke="#111" stroke-width="1.3" fill="#fff" />
<rect x="606.00" y="343.30" width="15.00" height="33.40" stroke="#111" stroke-width="1.2" fill="#fff" />
<line x1="606.00" y1="352.00" x2="621.00" y2="352.00" stroke="#222" stroke-width="0.6" />
<line x1="606.00" y1="354.60" x2="621.00" y2="354.60" stroke="#222" stroke-width="0.6" />
<line x1="606.00" y1="357.20" x2="621.00" y2="357.20" stroke="#222" stroke-width="0.6" />
<line x1="606.00" y1="359.80" x2="621.00" y2="359.80" stroke="#222" stroke-width="0.6" />
<line x1="606.00" y1="362.40" x2="621.00" y2="362.40" stroke="#222" stroke-width="0.6" />
<line x1="606.00" y1="365.00" x2="621.00" y2="365.00" stroke="#222" stroke-width="0.6" />
<line x1="606.00" y1="367.60" x2="621.00" y2="367.60" stroke="#222" stroke-width="0.6" />
<line x1="606.00" y1="370.20" x2="621.00" y2="370.20" stroke="#222" stroke-width="0.6" />
<line x1="606.00" y1="372.80" x2="621.00" y2="372.80" stroke="#222" stroke-width="0.6" />
<line x1="613.50" y1="352.00" x2="613.50" y2="375.00" stroke="#222" stroke-width="0.6" />
<path d="M611.5,373.5 L613.5,375.8 L615.5,373.5" stroke="#111" stroke-width="0.7" fill="none" />
<rect x="733.50" y="146.20" width="30.80" height="120.30" stroke="#111" stroke-width="1.2" fill="none" />
<rect x="914.40" y="146.20" width="30.10" height="120.30" stroke="#111" stroke-width="1.2" fill="none" />
<rect x="914.50" y="326.30" width="30.00" height="121.20" stroke="#111" stroke-width="1.2" fill="none" />
<text x="0" y="0" font-size="6.2" text-anchor="middle" fill="#333" textLength="24" lengthAdjust="spacingAndGlyphs" transform="translate(745,187.5) rotate(-90)">Стапель</text>
<text x="0" y="0" font-size="6.2" text-anchor="middle" fill="#333" textLength="27.4" lengthAdjust="spacingAndGlyphs" transform="translate(752,188) rotate(-90)">для правки</text>
<text x="0" y="0" font-size="6.2" text-anchor="middle" fill="#333" textLength="9" lengthAdjust="spacingAndGlyphs" transform="translate(758.4,188.4) rotate(-90)">рам</text>
<text x="0" y="0" font-size="6.2" text-anchor="middle" fill="#333" textLength="29" lengthAdjust="spacingAndGlyphs" transform="translate(930.8,206.5) rotate(-90)">Вибростенд</text>
<text x="0" y="0" font-size="6.2" text-anchor="middle" fill="#333" textLength="26" lengthAdjust="spacingAndGlyphs" transform="translate(928.4,387) rotate(-90)">Тормозной</text>
<text x="0" y="0" font-size="6.2" text-anchor="middle" fill="#333" textLength="15" lengthAdjust="spacingAndGlyphs" transform="translate(935,387) rotate(-90)">стенд</text>
<path d="M792.4,287.3 V126.6 H822.2 V287.3 H792.4" stroke="#555" stroke-width="0.9" fill="none" stroke-dasharray="6,3"/>
<path d="M794,130 L807.3,207 L820.6,130 M794,284 L807.3,207 L820.6,284" stroke="#555" stroke-width="0.8" fill="none" stroke-dasharray="7,3"/>
<text x="849.80" y="192.70" font-size="5.6" text-anchor="middle" fill="#333" transform="translate(0,0)">Габарит</text>
<text x="849.80" y="199.20" font-size="5.6" text-anchor="middle" fill="#333" transform="translate(0,0)">опорно-мостового</text>
<text x="849.80" y="205.70" font-size="5.6" text-anchor="middle" fill="#333" transform="translate(0,0)">крана Q=5</text>
<text x="849.80" y="212.20" font-size="5.6" text-anchor="middle" fill="#333" transform="translate(0,0)">т.</text>
<text x="822.50" y="313.00" font-size="5.3" text-anchor="middle" fill="#333" >Зона работы крана</text>
<path d="M798.5,314.2 H846.5 L860.2,297.5" stroke="#333" stroke-width="0.7" fill="none" />
<text x="601.50" y="212.50" font-size="10.5" text-anchor="middle" fill="#000" >550</text>
<line x1="568.00" y1="211.00" x2="592.00" y2="211.00" stroke="#555" stroke-width="0.6" />
<line x1="571.00" y1="215.50" x2="580.00" y2="206.50" stroke="#444" stroke-width="0.7" />
<line x1="578.00" y1="215.50" x2="587.00" y2="206.50" stroke="#444" stroke-width="0.7" />
<circle cx="747.00" cy="322.00" r="7.60" stroke="#222" stroke-width="0.9" fill="#fff"/>
<text x="747.00" y="325.80" font-size="10.5" text-anchor="middle" fill="#000" >2</text>
<rect x="729.70" y="333.75" width="35.00" height="12.50" stroke="#d0d0d0" stroke-width="0.8" fill="#fff" />
<text x="747.20" y="344.00" font-size="10.5" text-anchor="middle" fill="#000" >0.000</text>
<rect x="742.40" y="351.10" width="11.20" height="11.00" stroke="#555" stroke-width="0.8" fill="#fff" />
<text x="748.00" y="360.30" font-size="10.5" text-anchor="middle" fill="#000" font-style="italic">1</text>
<text x="146.60" y="293.00" font-size="10.5" text-anchor="middle" fill="#000" >i=0,02</text>
<line x1="135.10" y1="296.40" x2="159.60" y2="296.40" stroke="#333" stroke-width="0.7" />
<path d="M155.6,295 L160.1,296.4 L155.6,297.8 Z" stroke="#111" stroke-width="0.4" fill="#111" />
<text x="212.00" y="293.00" font-size="10.5" text-anchor="middle" fill="#000" >i=0,02</text>
<line x1="199.00" y1="296.40" x2="223.50" y2="296.40" stroke="#333" stroke-width="0.7" />
<path d="M203,295 L198.5,296.4 L203,297.8 Z" stroke="#111" stroke-width="0.4" fill="#111" />
<text x="366.60" y="293.00" font-size="10.5" text-anchor="middle" fill="#000" >i=0,02</text>
<line x1="355.10" y1="296.40" x2="379.60" y2="296.40" stroke="#333" stroke-width="0.7" />
<path d="M375.6,295 L380.1,296.4 L375.6,297.8 Z" stroke="#111" stroke-width="0.4" fill="#111" />
<text x="421.00" y="293.00" font-size="10.5" text-anchor="middle" fill="#000" >i=0,02</text>
<line x1="408.00" y1="296.40" x2="432.50" y2="296.40" stroke="#333" stroke-width="0.7" />
<path d="M412,295 L407.5,296.4 L412,297.8 Z" stroke="#111" stroke-width="0.4" fill="#111" />
<rect x="430.30" y="294.80" width="3.40" height="3.40" stroke="#222" stroke-width="1" fill="#fff" />
<circle cx="421.10" cy="320.40" r="7.60" stroke="#222" stroke-width="0.9" fill="#fff"/>
<text x="421.10" y="324.20" font-size="10.5" text-anchor="middle" fill="#000" >1</text>
<rect x="415.40" y="330.50" width="11.20" height="11.00" stroke="#555" stroke-width="0.8" fill="#fff" />
<text x="421.00" y="339.70" font-size="10.5" text-anchor="middle" fill="#000" font-style="italic">1</text>
<line x1="443.30" y1="372.70" x2="492.30" y2="372.70" stroke="#1a1a1a" stroke-width="2" />
<line x1="492.30" y1="372.70" x2="492.30" y2="414.00" stroke="#1a1a1a" stroke-width="2" />
<line x1="492.30" y1="452.00" x2="492.30" y2="478.00" stroke="#1a1a1a" stroke-width="2" />
<line x1="443.30" y1="387.70" x2="470.50" y2="387.70" stroke="#1a1a1a" stroke-width="2" />
<rect x="469.80" y="385.50" width="1.80" height="4.40" stroke="#111" stroke-width="0.7" fill="#111" />
<line x1="443.30" y1="403.00" x2="470.50" y2="403.00" stroke="#1a1a1a" stroke-width="2" />
<rect x="469.80" y="400.80" width="1.80" height="4.40" stroke="#111" stroke-width="0.7" fill="#111" />
<line x1="443.30" y1="418.00" x2="470.50" y2="418.00" stroke="#1a1a1a" stroke-width="2" />
<rect x="469.80" y="415.80" width="1.80" height="4.40" stroke="#111" stroke-width="0.7" fill="#111" />
<line x1="443.30" y1="432.70" x2="492.30" y2="432.70" stroke="#1a1a1a" stroke-width="2" />
<rect x="491.50" y="428.80" width="1.80" height="7.80" stroke="#111" stroke-width="0.7" fill="#111" />
<circle cx="432.00" cy="378.00" r="7.20" stroke="#222" stroke-width="0.9" fill="#fff"/>
<text x="432.00" y="381.80" font-size="10.5" text-anchor="middle" fill="#000" >8</text>
<rect x="450.30" y="372.50" width="12.00" height="10.60" stroke="#777" stroke-width="0.8" fill="#fff" />
<text x="456.30" y="381.70" font-size="10.5" text-anchor="middle" fill="#000" font-style="italic">1</text>
<line x1="439.20" y1="378.00" x2="447.50" y2="378.00" stroke="#222" stroke-width="0.8" />
<line x1="462.50" y1="383.30" x2="470.70" y2="372.70" stroke="#888" stroke-width="0.5" />
<circle cx="432.00" cy="393.70" r="7.20" stroke="#222" stroke-width="0.9" fill="#fff"/>
<text x="432.00" y="397.50" font-size="10.5" text-anchor="middle" fill="#000" >7</text>
<rect x="450.30" y="388.20" width="12.00" height="10.60" stroke="#777" stroke-width="0.8" fill="#fff" />
<text x="456.30" y="397.40" font-size="10.5" text-anchor="middle" fill="#000" font-style="italic">1</text>
<line x1="439.20" y1="393.70" x2="447.50" y2="393.70" stroke="#222" stroke-width="0.8" />
<line x1="462.50" y1="399.00" x2="470.70" y2="387.70" stroke="#888" stroke-width="0.5" />
<circle cx="432.00" cy="409.70" r="7.20" stroke="#222" stroke-width="0.9" fill="#fff"/>
<text x="432.00" y="413.50" font-size="10.5" text-anchor="middle" fill="#000" >6</text>
<rect x="450.30" y="404.20" width="12.00" height="10.60" stroke="#777" stroke-width="0.8" fill="#fff" />
<text x="456.30" y="413.40" font-size="10.5" text-anchor="middle" fill="#000" font-style="italic">1</text>
<line x1="439.20" y1="409.70" x2="447.50" y2="409.70" stroke="#222" stroke-width="0.8" />
<line x1="462.50" y1="415.00" x2="470.70" y2="403.00" stroke="#888" stroke-width="0.5" />
<circle cx="432.00" cy="425.30" r="7.20" stroke="#222" stroke-width="0.9" fill="#fff"/>
<text x="432.00" y="429.10" font-size="10.5" text-anchor="middle" fill="#000" >5</text>
<rect x="450.30" y="419.80" width="12.00" height="10.60" stroke="#777" stroke-width="0.8" fill="#fff" />
<text x="456.30" y="429.00" font-size="10.5" text-anchor="middle" fill="#000" font-style="italic">1</text>
<line x1="439.20" y1="425.30" x2="447.50" y2="425.30" stroke="#222" stroke-width="0.8" />
<line x1="462.50" y1="430.60" x2="470.70" y2="418.00" stroke="#888" stroke-width="0.5" />
<path d="M492.3,414 L498.5,428.5 L492.3,444" stroke="#888" stroke-width="0.5" fill="none" />
<path d="M443.3,440 L454.5,450.5" stroke="#888" stroke-width="0.5" fill="none" />
<circle cx="465.70" cy="449.00" r="7.30" stroke="#222" stroke-width="0.9" fill="#fff"/>
<text x="465.70" y="452.80" font-size="10.5" text-anchor="middle" fill="#000" >3</text>
<rect x="460.40" y="459.50" width="11.20" height="11.00" stroke="#555" stroke-width="0.8" fill="#fff" />
<text x="466.00" y="468.70" font-size="10.5" text-anchor="middle" fill="#000" font-style="italic">1</text>
<circle cx="481.70" cy="385.30" r="7.30" stroke="#222" stroke-width="0.9" fill="#fff"/>
<text x="481.70" y="389.10" font-size="10.5" text-anchor="middle" fill="#000" >4</text>
<rect x="476.40" y="394.50" width="11.20" height="11.00" stroke="#555" stroke-width="0.8" fill="#fff" />
<text x="482.00" y="403.70" font-size="10.5" text-anchor="middle" fill="#000" font-style="italic">1</text>
<text x="433.40" y="454.00" font-size="11" text-anchor="middle" fill="#000" >Д2</text>
<rect x="430.80" y="475.00" width="3.60" height="3.20" stroke="#222" stroke-width="1" fill="#fff" />
<text x="659.80" y="661.90" font-size="10.5" text-anchor="start" fill="#111" >1. Разрез 1-1 выполнен см. л. АР-16.</text>
<text x="659.80" y="672.90" font-size="10.5" text-anchor="start" fill="#111" >2. Разрез 2-2 выполнен см. л. АР-17.</text>
<text x="659.80" y="684.00" font-size="10.5" text-anchor="start" fill="#111" >3. Спецификация заполнения оконных и дверных</text>
<text x="671.50" y="695.00" font-size="10.5" text-anchor="start" fill="#111" >проемов выполнена см. л. АР-21.</text>
<text x="659.80" y="706.20" font-size="10.5" text-anchor="start" fill="#111" >4. Экспликация полов выполнена см. л. АР-21.</text>
<path d="M1200,717.2 H659 V882.5" stroke="#111" stroke-width="1.4" fill="none" />
<line x1="659.00" y1="732.40" x2="854.40" y2="732.40" stroke="#111" stroke-width="1" />
<line x1="659.00" y1="747.40" x2="854.40" y2="747.40" stroke="#111" stroke-width="1" />
<line x1="659.00" y1="762.60" x2="854.40" y2="762.60" stroke="#111" stroke-width="1" />
<line x1="659.00" y1="777.60" x2="854.40" y2="777.60" stroke="#111" stroke-width="1" />
<line x1="659.00" y1="794.00" x2="854.40" y2="794.00" stroke="#111" stroke-width="1" />
<line x1="659.00" y1="808.00" x2="854.40" y2="808.00" stroke="#111" stroke-width="1" />
<line x1="659.00" y1="822.40" x2="854.40" y2="822.40" stroke="#111" stroke-width="1" />
<line x1="659.00" y1="837.40" x2="854.40" y2="837.40" stroke="#111" stroke-width="1" />
<line x1="659.00" y1="852.40" x2="854.40" y2="852.40" stroke="#111" stroke-width="1" />
<line x1="659.00" y1="867.40" x2="854.40" y2="867.40" stroke="#111" stroke-width="1" />
<line x1="719.60" y1="717.20" x2="719.60" y2="882.50" stroke="#111" stroke-width="1.2" />
<line x1="779.60" y1="717.20" x2="779.60" y2="882.50" stroke="#111" stroke-width="1.2" />
<line x1="824.60" y1="717.20" x2="824.60" y2="882.50" stroke="#111" stroke-width="1.2" />
<line x1="689.00" y1="717.20" x2="689.00" y2="794.00" stroke="#555" stroke-width="0.9" />
<line x1="749.40" y1="717.20" x2="749.40" y2="794.00" stroke="#555" stroke-width="0.9" />
<line x1="854.40" y1="717.20" x2="854.40" y2="882.50" stroke="#111" stroke-width="1.4" />
<line x1="854.40" y1="747.30" x2="1200.00" y2="747.30" stroke="#111" stroke-width="1.2" />
<line x1="854.40" y1="793.90" x2="1200.00" y2="793.90" stroke="#111" stroke-width="1.2" />
<line x1="1065.20" y1="809.40" x2="1200.00" y2="809.40" stroke="#111" stroke-width="1" />
<line x1="854.40" y1="837.70" x2="1200.00" y2="837.70" stroke="#111" stroke-width="1.2" />
<line x1="1065.20" y1="793.90" x2="1065.20" y2="882.50" stroke="#111" stroke-width="1.2" />
<line x1="1110.30" y1="793.90" x2="1110.30" y2="837.70" stroke="#111" stroke-width="1.2" />
<line x1="1155.30" y1="793.90" x2="1155.30" y2="837.70" stroke="#111" stroke-width="1.2" />
<text x="675.20" y="789.30" font-size="12.3" text-anchor="middle" fill="#111" textLength="25.6" lengthAdjust="spacingAndGlyphs">Изм.</text>
<text x="702.50" y="789.30" font-size="12.3" text-anchor="middle" fill="#111" textLength="25" lengthAdjust="spacingAndGlyphs">Кол.</text>
<text x="733.20" y="789.30" font-size="12.3" text-anchor="middle" fill="#111" textLength="26.4" lengthAdjust="spacingAndGlyphs">Лист</text>
<text x="764.00" y="789.30" font-size="9.8" text-anchor="middle" fill="#111" textLength="28" lengthAdjust="spacingAndGlyphs">№док.</text>
<text x="799.00" y="789.30" font-size="12.3" text-anchor="middle" fill="#111" textLength="33.2" lengthAdjust="spacingAndGlyphs">Подп.</text>
<text x="839.30" y="789.30" font-size="12.3" text-anchor="middle" fill="#111" textLength="27.4" lengthAdjust="spacingAndGlyphs">Дата</text>
<text x="662.00" y="819.00" font-size="10.3" text-anchor="start" fill="#111" textLength="46" lengthAdjust="spacingAndGlyphs">Разработал</text>
<text x="723.00" y="818.00" font-size="10.3" text-anchor="start" fill="#111" textLength="43" lengthAdjust="spacingAndGlyphs">Решетова</text>
<text x="662.00" y="849.00" font-size="10.3" text-anchor="start" fill="#111" textLength="34.4" lengthAdjust="spacingAndGlyphs">Н. контр.</text>
<text x="723.00" y="848.00" font-size="10.3" text-anchor="start" fill="#111" textLength="50.6" lengthAdjust="spacingAndGlyphs">Двоеглазов</text>
<text x="662.00" y="864.40" font-size="10.3" text-anchor="start" fill="#111" textLength="16" lengthAdjust="spacingAndGlyphs">ГИП</text>
<text x="723.00" y="863.50" font-size="10.3" text-anchor="start" fill="#111" textLength="41.4" lengthAdjust="spacingAndGlyphs">Коротаев</text>
<text x="839.30" y="820.40" font-size="10.3" text-anchor="middle" fill="#111" textLength="20.6" lengthAdjust="spacingAndGlyphs">04.23</text>
<text x="839.30" y="850.50" font-size="10.3" text-anchor="middle" fill="#111" textLength="20.6" lengthAdjust="spacingAndGlyphs">04.23</text>
<text x="839.30" y="865.50" font-size="10.3" text-anchor="middle" fill="#111" textLength="20.6" lengthAdjust="spacingAndGlyphs">04.23</text>
<path d="M781.6,814.7 L794.8,806.6 L796.7,809.0 L805.2,803.8" stroke="#111" stroke-width="1.1" fill="none" stroke-linejoin="round"/>
<path d="M805.2,803.8 C800,812 797,820 795,825 C792,830 787,830 789,825 C791,820 795,818 798,816" stroke="#111" stroke-width="1.1" fill="none" />
<path d="M803.4,805.7 L798.6,825.5" stroke="#111" stroke-width="1.1" fill="none" />
<path d="M808.1,807.6 L805.2,819.8" stroke="#111" stroke-width="1.1" fill="none" />
<path d="M806.2,818.0 L810.0,816.1 L809.0,818.4 L812.8,816.1 L815.6,817.0 L812.8,817.5" stroke="#111" stroke-width="1.4" fill="none" />
<path d="M787.3,856.7 L795.8,847.3 L803.4,839.7" stroke="#111" stroke-width="2.0" fill="none" stroke-linecap="round"/>
<path d="M803.4,839.7 L801.5,847.3 L806.2,844.4 L808.1,851.0 L814.7,846.3 L824.1,841.6 L831.7,840.6" stroke="#111" stroke-width="1.2" fill="none" />
<path d="M810.9,852.9 L790.1,860.5 L787.3,867.1 L797.7,865.2 L803.4,856.7 L798.6,854.8 L793.9,866.2 L806.2,867.1 L817.5,851.0 L819.4,847.3 L810.9,860.5 L806.2,866.2 L818.5,849.1" stroke="#555" stroke-width="0.8" fill="none" />
<path d="M806.2,865.2 L802.4,875.6" stroke="#555" stroke-width="0.8" fill="none" />
<path d="M793.9,858.6 L789.2,866.2 L792.0,869.9 L799.6,866.2" stroke="#666" stroke-width="0.7" fill="none" />
<text x="1029.00" y="738.00" font-size="12.6" text-anchor="middle" fill="#111" >02-23П</text>
<text x="1038.50" y="762.80" font-size="10.6" text-anchor="middle" fill="#111" >«Здание СТО», расположенное по адресу:</text>
<text x="1038.50" y="772.50" font-size="10.6" text-anchor="middle" fill="#111" >Ленинградская область, г. Санкт-Петербург, Пушкинский район,</text>
<text x="1038.50" y="783.20" font-size="10.6" text-anchor="middle" fill="#111" >п. Шушары, ул. Софийская, технопарк "Софийский"</text>
<text x="960.80" y="819.80" font-size="10.55" text-anchor="middle" fill="#111" >ООО "Большегруз Сервис СПБ"</text>
<text x="1087.80" y="807.30" font-size="12.4" text-anchor="middle" fill="#111" >Стадия</text>
<text x="1131.80" y="807.30" font-size="12.4" text-anchor="middle" fill="#111" >Лист</text>
<text x="1162.50" y="807.30" font-size="12.4" text-anchor="start" fill="#111" >Листов</text>
<text x="1088.80" y="828.50" font-size="12.2" text-anchor="middle" fill="#111" >ЭП</text>
<text x="1131.60" y="828.50" font-size="12.6" text-anchor="middle" fill="#111" >12</text>
<text x="1183.50" y="828.50" font-size="12.6" text-anchor="middle" fill="#111" >21</text>
<text x="960.00" y="863.50" font-size="10.5" text-anchor="middle" fill="#111" >Маркировочный план на отм. 0.000</text>
<text x="1142.40" y="862.30" font-size="12.7" text-anchor="middle" fill="#111" >ООО "Альянс"</text>
</svg></body></html>
